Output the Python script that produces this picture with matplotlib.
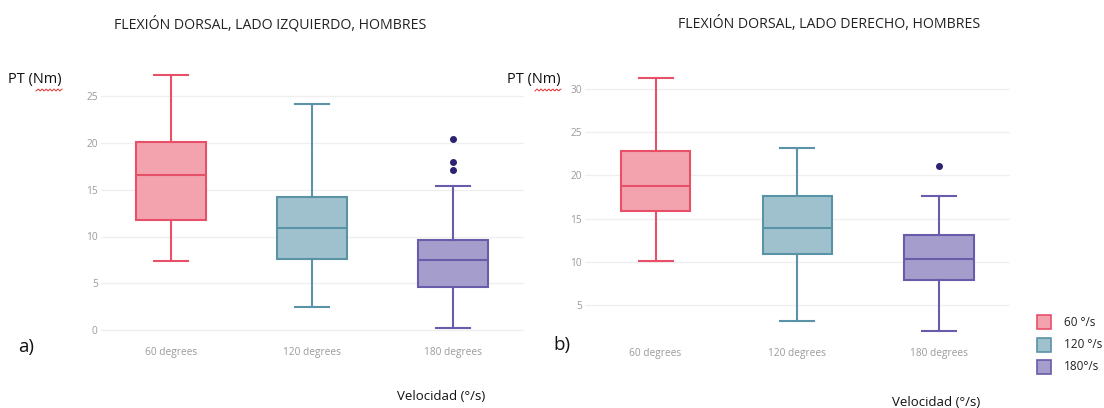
import numpy as np
import matplotlib.pyplot as plt
from matplotlib.patches import Rectangle

# categorias del eje x
categorias = ["60 degrees", "120 degrees", "180 degrees"]
leyenda = ["60 °/s", "120 °/s", "180°/s"]

# lado izquierdo: bigote inf, Q1, mediana, Q3, bigote sup
izq_bigote_inf = [7.4, 2.5, 0.25]
izq_q1 = [11.75, 7.6, 4.6]
izq_mediana = [16.6, 10.95, 7.5]
izq_q3 = [20.1, 14.25, 9.6]
izq_bigote_sup = [27.2, 24.1, 15.35]
izq_atipicos = [[], [], [20.4, 17.95, 17.1]]

# lado derecho
der_bigote_inf = [10.1, 3.2, 2.1]
der_q1 = [15.85, 10.9, 7.95]
der_mediana = [18.75, 13.9, 10.35]
der_q3 = [22.8, 17.65, 13.15]
der_bigote_sup = [31.26, 23.2, 17.6]
der_atipicos = [[], [], [21.1]]

bordes = ["#e8506a", "#5a93a5", "#6a5bab"]
rellenos = ["#f2a3ae", "#9fc1cd", "#a59dcc"]
color_atipico = "#2b2372"

plt.rcParams['font.family'] = ['Open Sans', 'DejaVu Sans']

fig = plt.figure(figsize=(11.04, 4.08), dpi=100)
W, H = 1104, 408


def ejes(x0, x1, y_top, y_bot):
    return fig.add_axes([x0 / W, 1 - y_bot / H, (x1 - x0) / W, (y_bot - y_top) / H])


def dibujar(ax, inf, q1, med, q3, sup, atip, ylim, yticks, pad_x):
    for i in range(3):
        stats = dict(whislo=inf[i], q1=q1[i], med=med[i], q3=q3[i],
                     whishi=sup[i], fliers=atip[i])
        ax.bxp([stats], positions=[i], widths=0.49, patch_artist=True,
               showfliers=True,
               boxprops=dict(facecolor=rellenos[i], edgecolor=bordes[i], linewidth=1.5),
               medianprops=dict(color=bordes[i], linewidth=1.5),
               whiskerprops=dict(color=bordes[i], linewidth=1.5),
               capprops=dict(color=bordes[i], linewidth=1.5),
               capwidths=0.24,
               flierprops=dict(marker="o", markersize=4, markerfacecolor=color_atipico,
                               markeredgecolor=color_atipico))
    ax.set_xlim(-0.5, 2.5)
    ax.set_ylim(*ylim)
    ax.set_yticks(yticks)
    ax.set_xticks(range(3))
    ax.set_xticklabels(categorias)
    ax.tick_params(length=0, labelsize=7.3, colors="#9a9a9a")
    ax.tick_params(axis="x", pad=pad_x)
    ax.tick_params(axis="y", pad=2)
    ax.grid(axis="y", color="#efefef", linewidth=0.9)
    ax.set_axisbelow(True)
    for s in ax.spines.values():
        s.set_visible(False)


ax1 = ejes(100.5, 523.5, 64, 334)
dibujar(ax1, izq_bigote_inf, izq_q1, izq_mediana, izq_q3, izq_bigote_sup,
        izq_atipicos, (-0.4, 28.4), [0, 5, 10, 15, 20, 25], 9)

ax2 = ejes(584.7, 1010, 66, 341)
dibujar(ax2, der_bigote_inf, der_q1, der_mediana, der_q3, der_bigote_sup,
        der_atipicos, (0.9, 32.6), [5, 10, 15, 20, 25, 30], 5)


def texto(x, y, s, **kw):
    fig.text(x / W, 1 - y / H, s, **kw)


texto(270, 24, "FLEXIÓN DORSAL, LADO IZQUIERDO, HOMBRES", fontsize=10.2, ha="center", va="center", color="#222222")
texto(829, 24, "FLEXIÓN DORSAL, LADO DERECHO, HOMBRES", fontsize=10.2, ha="center", va="center", color="#222222")
texto(8, 80, "PT (Nm)", fontsize=10.5, ha="left", va="center", color="#111111")
texto(507, 80, "PT (Nm)", fontsize=10.5, ha="left", va="center", color="#111111")
texto(18, 347, "a)", fontsize=13.5, ha="left", va="center", color="#111111")
texto(553, 345, "b)", fontsize=13.5, ha="left", va="center", color="#111111")
texto(441, 397, "Velocidad (°/s)", fontsize=9.5, ha="center", va="center", color="#111111")
texto(936, 402, "Velocidad (°/s)", fontsize=9.5, ha="center", va="center", color="#111111")

# subrayado ondulado bajo "Nm"
for x0 in (36, 535):
    xs = np.linspace(x0, x0 + 26, 27)
    ys = 90 + 1.0 * np.sin(xs * 1.6)
    fig.add_artist(plt.Line2D(xs / W, 1 - ys / H, color="#e03030", linewidth=0.7))

# leyenda
for i, etiqueta in enumerate(leyenda):
    y = 322 + i * 22.5
    fig.add_artist(Rectangle((1037 / W, 1 - (y + 7) / H), 14 / W, 14 / H,
                             facecolor=rellenos[i], edgecolor=bordes[i], linewidth=1.2,
                             transform=fig.transFigure))
    texto(1064, y, etiqueta, fontsize=8.5, ha="left", va="center", color="#222222")

fig.savefig("out.png", dpi=100)
